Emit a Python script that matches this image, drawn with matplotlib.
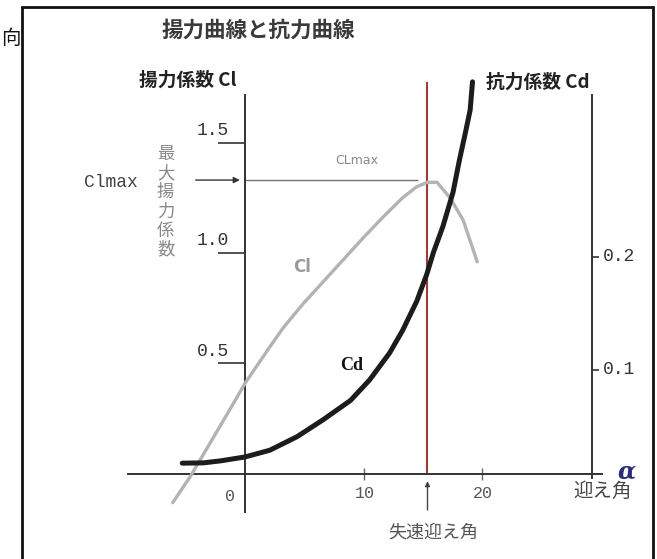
import matplotlib
matplotlib.use('Agg')
import matplotlib.pyplot as plt
import numpy as np

plt.rcParams['font.family'] = ['Noto Sans CJK JP', 'DejaVu Sans']

# lift curve (alpha in deg, Cl)
cl_alpha = [-6.1, -4.6, -3.0, -1.3, 0.0, 1.9, 3.2, 4.9, 6.6, 8.3, 10.0, 11.6, 13.3, 14.5,
            15.4, 16.2, 17.3, 18.4, 19.6]
cl_vals = [-0.13, -0.01, 0.135, 0.29, 0.41, 0.56, 0.66, 0.77, 0.87, 0.97, 1.07, 1.16, 1.25, 1.30,
           1.32, 1.32, 1.25, 1.15, 0.96]

# drag curve (alpha in deg, Cd)
cd_alpha = [-5.3, -3.5, -2.1, 0.0, 2.1, 4.4, 6.6, 8.9, 10.5, 12.2, 13.3, 14.5, 15.35, 15.9,
            16.7, 17.55, 18.1, 18.6, 19.0, 19.2]
cd_vals = [0.0175, 0.0178, 0.0195, 0.023, 0.029, 0.041, 0.056, 0.073, 0.091, 0.115, 0.135, 0.161,
           0.185, 0.204, 0.227, 0.257, 0.286, 0.310, 0.330, 0.355]

cl_max = 1.33
stall_alpha = 15.4

cl_ticks = [0.5, 1.0, 1.5]
cl_tick_labels = ['0.5', '1.0', '1.5']
cd_ticks = [0.1, 0.2]
cd_tick_labels = ['0.1', '0.2']
alpha_ticks = [10, 20]
alpha_tick_labels = ['10', '20']

axc = '#333333'
mono = 'Liberation Mono'

fig = plt.figure(figsize=(6.57, 5.59), dpi=100)
ax = fig.add_axes([0, 0, 1, 1])
ax.set_xlim(-20.68, 34.77)
ax.set_ylim(-0.385, 2.145)
ax.patch.set_alpha(0)

ax2 = ax.twinx()
ax2.set_ylim(-0.0673, 0.4274)

# axes lines
for s in ['top', 'right']:
    ax.spines[s].set_visible(False)
for s in ['top', 'left', 'bottom']:
    ax2.spines[s].set_visible(False)
ax.spines['left'].set_position(('data', 0))
ax.spines['left'].set_bounds(-0.172, 1.715)
ax.spines['bottom'].set_position(('data', 0))
ax.spines['bottom'].set_bounds(-9.87, 30.1)
ax2.spines['right'].set_position(('data', 29.3))
ax2.spines['right'].set_bounds(0.004, 0.343)
for sp in [ax.spines['left'], ax.spines['bottom'], ax2.spines['right']]:
    sp.set_linewidth(1.4)
    sp.set_color(axc)

ax.set_yticks(cl_ticks)
ax.set_yticklabels([])
ax.tick_params(axis='y', direction='out', length=19.4, width=1.2, color=axc)
ax.set_xticks(alpha_ticks)
ax.set_xticklabels([])
ax.tick_params(axis='x', direction='inout', length=8, width=1.0, color='#666666')
ax2.set_yticks(cd_ticks)
ax2.set_yticklabels([])
ax2.tick_params(axis='y', direction='out', length=5, width=1.2, color=axc)

# curves
ax.plot(cl_alpha, cl_vals, color='#b3b3b3', lw=2.4, solid_capstyle='round',
        solid_joinstyle='round', zorder=3)
ax2.plot(cd_alpha, cd_vals, color='#1c1c1c', lw=3.6, solid_capstyle='round',
         solid_joinstyle='round', zorder=4)

# stall line and Clmax line
ax.vlines(stall_alpha, 0, 1.774, color='#9e3b3b', lw=1.5, zorder=2)
ax.hlines(cl_max, 0, 14.6, color='#777777', lw=1.0, zorder=2)
ax.annotate('', xy=(-0.2, cl_max), xytext=(-4.4, cl_max),
            arrowprops=dict(arrowstyle='-|>', color='#333333', lw=1.0, mutation_scale=9))
ax.annotate('', xy=(stall_alpha, -0.02), xytext=(stall_alpha, -0.176),
            arrowprops=dict(arrowstyle='-|>', color='#444444', lw=1.0, mutation_scale=7))

# tick labels
for v, lab in zip(cl_ticks, cl_tick_labels):
    ax.text(-1.35, v + 0.055, lab, family=mono, fontsize=13, color=axc, ha='right', va='center')
for v, lab in zip(cd_ticks, cd_tick_labels):
    ax2.text(30.2, v, lab, family=mono, fontsize=13, color=axc, ha='left', va='center')
for v, lab in zip(alpha_ticks, alpha_tick_labels):
    ax.text(v + 0.1, -0.09, lab, family=mono, fontsize=12, color='#555555', ha='center', va='center')
ax.text(-1.27, -0.104, '0', family=mono, fontsize=12, color='#555555', ha='center', va='center')

# labels
ax.text(1.1, 2.009, '揚力曲線と抗力曲線', fontsize=15.5, fontweight='bold', color='#3a3a3a',
        ha='center', va='center')
ax.text(-4.8, 1.783, '揚力係数 Cl', fontsize=13.5, fontweight='bold', color='#222222',
        ha='center', va='center')
ax.text(24.7, 1.774, '抗力係数 Cd', fontsize=13.5, fontweight='bold', color='#222222',
        ha='center', va='center')
ax.text(-11.3, 1.321, 'Clmax', family=mono, fontsize=13, color='#444444', ha='center', va='center')
ax.text(-6.7, 1.231, '最\n大\n揚\n力\n係\n数', fontsize=12.5, color='#888888',
        ha='center', va='center', linespacing=1.08)
ax.text(9.45, 1.42, 'CLmax', fontsize=9, color='#888888', ha='center', va='center',
        family='Liberation Sans Narrow')
ax.text(4.8, 0.937, 'Cl', fontsize=12, fontweight='bold', color='#9a9a9a', ha='center', va='center',
        family='DejaVu Sans')
ax.text(9.0, 0.493, 'Cd', fontsize=13, fontweight='bold', color='#111111', ha='center', va='center',
        family='Liberation Serif')
ax.text(32.2, 0.01, 'α', fontsize=17, fontweight='bold', style='italic', color='#2b2b78',
        ha='center', va='center', family='DejaVu Serif')
ax.text(30.2, -0.081, '迎え角', fontsize=14, color='#444444', ha='center', va='center')
ax.text(15.9, -0.267, '失速迎え角', fontsize=13, color='#555555', ha='center', va='center')

# frame and character at left
fig.add_artist(plt.Rectangle((22 / 657, -0.05), 631 / 657, 1.05 - 7 / 559, transform=fig.transFigure,
                             fill=False, lw=2, color='#111111'))
fig.text(1 / 657, 1 - 38 / 559, '向', fontsize=14, color='#111111', ha='left', va='center')

fig.savefig('out.png', dpi=100)
